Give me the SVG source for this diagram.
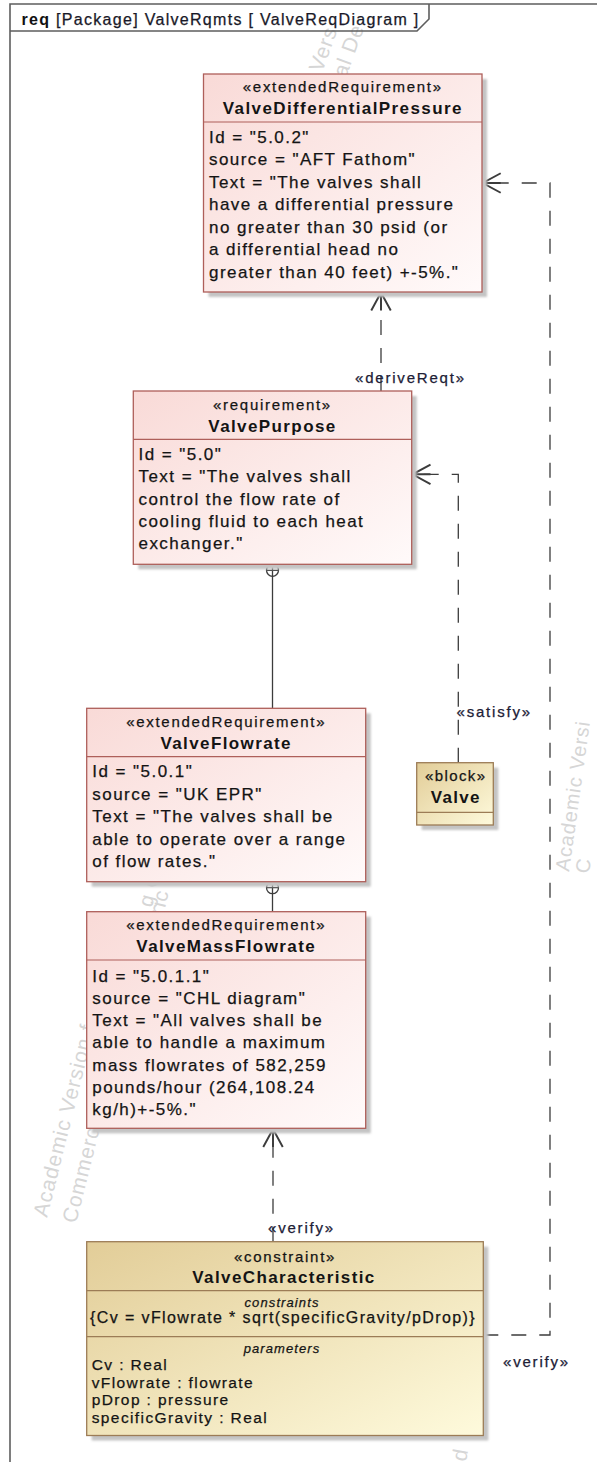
<svg xmlns="http://www.w3.org/2000/svg" width="597" height="1462" viewBox="0 0 597 1462">
  <defs>
    <linearGradient id="gReq" x1="0" y1="0" x2="1" y2="1">
      <stop offset="0" stop-color="#f9dad7"/>
      <stop offset="1" stop-color="#fffafa"/>
    </linearGradient>
    <linearGradient id="gBlk" x1="0" y1="0" x2="1" y2="1">
      <stop offset="0" stop-color="#e2cd98"/>
      <stop offset="1" stop-color="#fefadc"/>
    </linearGradient>
    <filter id="soft" x="-5%" y="-5%" width="110%" height="110%">
      <feGaussianBlur stdDeviation="1.2"/>
    </filter>
    <marker id="open" markerUnits="userSpaceOnUse" markerWidth="30" markerHeight="30" viewBox="-16 -10 20 20" refX="0" refY="0" orient="auto" overflow="visible">
      <path d="M-12,-6.5 L0,0 L-12,6.5 M0,0 L-12,0" fill="none" stroke="#3c3c3c" stroke-width="1.3"/>
    </marker>
    <style>
      text { font-family: "Liberation Sans", Arial, sans-serif; fill: #141414; stroke: #141414; stroke-width: 0.25px; }
      .frame { fill: none; stroke: #5e5e5e; stroke-width: 1.6; }
      .hdr { font-size: 16px; letter-spacing: 1.3px; fill: #1a1a2e; }
      .shadow { fill: #c4c4c4; filter: url(#soft); }
      .req .box { fill: url(#gReq); stroke: #ae5f5a; stroke-width: 1.3; }
      .req .div { stroke: #ae5f5a; stroke-width: 1.2; }
      .blk .box { fill: url(#gBlk); stroke: #9c7c56; stroke-width: 1.3; }
      .blk .div { stroke: #9c7c56; stroke-width: 1.2; }
      .st { font-size: 15px; letter-spacing: 1.7px; text-anchor: middle; }
      .nm { font-size: 17px; font-weight: bold; letter-spacing: 1.4px; text-anchor: middle; stroke-width: 0; }
      .bd { font-size: 17px; letter-spacing: 1.45px; }
      .cs { font-size: 16px; letter-spacing: 1.38px; text-anchor: middle; }
      .it { font-size: 13px; font-style: italic; letter-spacing: 1.1px; text-anchor: middle; }
      .pm { font-size: 15.5px; letter-spacing: 1.4px; }
      .conn { fill: none; stroke: #3c3c3c; stroke-width: 1.3; }
      .dash { stroke-dasharray: 15 13; }
      .lbl { font-size: 15px; letter-spacing: 1.8px; fill: #202036; stroke: #202036; }
      .wm { font-size: 21px; letter-spacing: 1px; fill: #d6d6d6; stroke: none; }
    </style>
  </defs>

  <rect width="597" height="1462" fill="#ffffff"/>

  <!-- faint background watermark fragments -->
  <g id="watermark">
    <text class="wm" transform="translate(322,73) rotate(-70)">Vers</text>
    <text class="wm" transform="translate(346,78) rotate(-70)">al De</text>
    <text class="wm" transform="translate(569,872) rotate(-82)" style="font-size:20px">Academic Versi</text>
    <text class="wm" transform="translate(589,874) rotate(-82)" style="font-size:20px">C</text>
    <text class="wm" transform="translate(47,1218) rotate(-76)">Academic Version f</text>
    <text class="wm" transform="translate(76,1224) rotate(-76)">Commerc</text>
    <text class="wm" transform="translate(152,908) rotate(-76)">g C</text>
    <text class="wm" transform="translate(163,916) rotate(-76)">ric</text>
    <text class="wm" transform="translate(466,1462) rotate(-80)">d</text>
  </g>

  <!-- diagram frame with name tab -->
  <g id="frame">
    <path class="frame" d="M10,1462 V4 H597"/>
    <path class="frame" d="M10,31 H417 L429,19 V4"/>
    <text class="hdr" x="21.5" y="25"><tspan font-weight="bold" fill="#111" stroke-width="0">req</tspan> [Package] ValveRqmts [ ValveReqDiagram ]</text>
  </g>

  <!-- connectors -->
  <g id="connectors">
    <!-- containment: ValvePurpose -> ValveFlowrate -->
    <line class="conn" x1="272.5" y1="576" x2="272.5" y2="708.3"/>
    <circle class="conn" cx="272.5" cy="570.3" r="6" fill="#ffffff"/>
    <path class="conn" d="M266.5,570.3 H278.5 M272.5,564.3 V576.3"/>
    <!-- containment: ValveFlowrate -> ValveMassFlowrate -->
    <line class="conn" x1="272.5" y1="893.5" x2="272.5" y2="911.7"/>
    <circle class="conn" cx="272.5" cy="887.7" r="6" fill="#ffffff"/>
    <path class="conn" d="M266.5,887.7 H278.5 M272.5,881.7 V893.7"/>

    <!-- deriveReqt -->
    <path class="conn dash" d="M381,391 V292.5" marker-end="url(#open)"/>
    <text class="lbl" x="355" y="383">«deriveReqt»</text>

    <!-- satisfy -->
    <path class="conn dash" d="M458.3,762.7 V474.3 H412.5" marker-end="url(#open)"/>
    <text class="lbl" x="456.5" y="717.3">«satisfy»</text>

    <!-- verify: ValveCharacteristic -> ValveMassFlowrate -->
    <path class="conn dash" d="M273,1241.7 V1129" marker-end="url(#open)"/>
    <text class="lbl" x="268" y="1233.3">«verify»</text>

    <!-- verify: ValveCharacteristic -> ValveDifferentialPressure -->
    <path class="conn dash" d="M483.3,1335 H550 V183 H482.7" marker-end="url(#open)"/>
    <text class="lbl" x="503" y="1367.3">«verify»</text>
  </g>

  <!-- ValveDifferentialPressure -->
  <g id="ValveDifferentialPressure" class="req">
    <rect class="shadow" x="208.5" y="79" width="278.5" height="218"/>
    <rect class="box" x="203.5" y="74" width="278.5" height="218"/>
    <line class="div" x1="203.5" y1="122" x2="482" y2="122"/>
    <text class="st" x="342.8" y="92.3">«extendedRequirement»</text>
    <text class="nm" x="342.8" y="114.3">ValveDifferentialPressure</text>
    <text class="bd" x="209" y="142.7">Id = "5.0.2"</text>
    <text class="bd" x="209" y="165.2">source = "AFT Fathom"</text>
    <text class="bd" x="209" y="187.7">Text = "The valves shall</text>
    <text class="bd" x="209" y="210.2">have a differential pressure</text>
    <text class="bd" x="209" y="232.7">no greater than 30 psid (or</text>
    <text class="bd" x="209" y="255.2">a differential head no</text>
    <text class="bd" x="209" y="277.7">greater than 40 feet) +-5%."</text>
  </g>

  <!-- ValvePurpose -->
  <g id="ValvePurpose" class="req">
    <rect class="shadow" x="138.3" y="396" width="278.4" height="173.3"/>
    <rect class="box" x="133.3" y="391" width="278.4" height="173.3"/>
    <line class="div" x1="133.3" y1="439.3" x2="411.7" y2="439.3"/>
    <text class="st" x="272.5" y="409.5">«requirement»</text>
    <text class="nm" x="272.5" y="431.7">ValvePurpose</text>
    <text class="bd" x="138.5" y="460">Id = "5.0"</text>
    <text class="bd" x="138.5" y="482.3">Text = "The valves shall</text>
    <text class="bd" x="138.5" y="504.6">control the flow rate of</text>
    <text class="bd" x="138.5" y="526.9">cooling fluid to each heat</text>
    <text class="bd" x="138.5" y="549.2">exchanger."</text>
  </g>

  <!-- ValveFlowrate -->
  <g id="ValveFlowrate" class="req">
    <rect class="shadow" x="91.7" y="713.3" width="279" height="173.4"/>
    <rect class="box" x="86.7" y="708.3" width="279" height="173.4"/>
    <line class="div" x1="86.7" y1="756.7" x2="365.7" y2="756.7"/>
    <text class="st" x="226.2" y="726.7">«extendedRequirement»</text>
    <text class="nm" x="226.2" y="749">ValveFlowrate</text>
    <text class="bd" x="92.3" y="777">Id = "5.0.1"</text>
    <text class="bd" x="92.3" y="799.5">source = "UK EPR"</text>
    <text class="bd" x="92.3" y="822">Text = "The valves shall be</text>
    <text class="bd" x="92.3" y="844.5">able to operate over a range</text>
    <text class="bd" x="92.3" y="867">of flow rates."</text>
  </g>

  <!-- ValveMassFlowrate -->
  <g id="ValveMassFlowrate" class="req">
    <rect class="shadow" x="91.7" y="916.7" width="279" height="216.6"/>
    <rect class="box" x="86.7" y="911.7" width="279" height="216.6"/>
    <line class="div" x1="86.7" y1="960" x2="365.7" y2="960"/>
    <text class="st" x="226.2" y="930">«extendedRequirement»</text>
    <text class="nm" x="226.2" y="952.3">ValveMassFlowrate</text>
    <text class="bd" x="92.3" y="981.5">Id = "5.0.1.1"</text>
    <text class="bd" x="92.3" y="1003.8">source = "CHL diagram"</text>
    <text class="bd" x="92.3" y="1026.1">Text = "All valves shall be</text>
    <text class="bd" x="92.3" y="1048.4">able to handle a maximum</text>
    <text class="bd" x="92.3" y="1070.7">mass flowrates of 582,259</text>
    <text class="bd" x="92.3" y="1093">pounds/hour (264,108.24</text>
    <text class="bd" x="92.3" y="1115.3">kg/h)+-5%."</text>
  </g>

  <!-- Valve block -->
  <g id="Valve" class="blk">
    <rect class="shadow" x="421.7" y="767.7" width="76.6" height="62.3"/>
    <rect class="box" x="416.7" y="762.7" width="76.6" height="62.3"/>
    <line class="div" x1="416.7" y1="812.3" x2="493.3" y2="812.3"/>
    <text class="st" x="455.7" y="781" style="letter-spacing:1.4px">«block»</text>
    <text class="nm" x="455.7" y="803.3" style="letter-spacing:1.3px">Valve</text>
  </g>

  <!-- ValveCharacteristic constraint block -->
  <g id="ValveCharacteristic" class="blk">
    <rect class="shadow" x="91.7" y="1246.7" width="396.6" height="193.8"/>
    <rect class="box" x="86.7" y="1241.7" width="396.6" height="193.8"/>
    <line class="div" x1="86.7" y1="1290.7" x2="483.3" y2="1290.7"/>
    <line class="div" x1="86.7" y1="1336.7" x2="483.3" y2="1336.7"/>
    <text class="st" x="285" y="1261.5">«constraint»</text>
    <text class="nm" x="284" y="1283.3">ValveCharacteristic</text>
    <text class="it" x="282" y="1306.7">constraints</text>
    <text class="cs" x="283" y="1323">{Cv = vFlowrate * sqrt(specificGravity/pDrop)}</text>
    <text class="it" x="282" y="1352.7">parameters</text>
    <text class="pm" x="91.7" y="1370">Cv : Real</text>
    <text class="pm" x="91.7" y="1387.7">vFlowrate : flowrate</text>
    <text class="pm" x="91.7" y="1405">pDrop : pressure</text>
    <text class="pm" x="91.7" y="1423">specificGravity : Real</text>
  </g>
</svg>
